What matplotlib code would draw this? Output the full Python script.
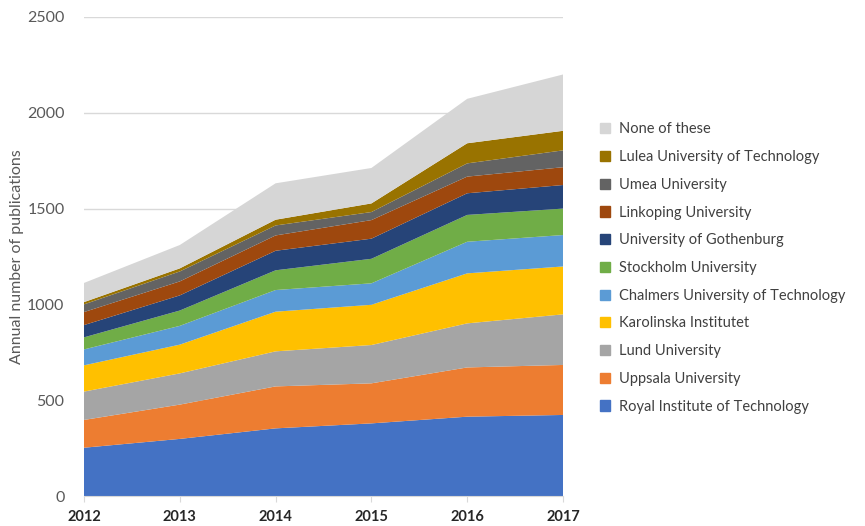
import matplotlib.pyplot as plt
from matplotlib.patches import Patch

plt.rcParams['font.family'] = ['Lato', 'DejaVu Sans']

years = [2012, 2013, 2014, 2015, 2016, 2017]

# publications per year, bottom layer first
royal = [252, 298, 353, 379, 414, 423]
uppsala = [145, 179, 219, 209, 257, 261]
lund = [148, 163, 183, 200, 230, 264]
karolinska = [137, 150, 207, 210, 261, 250]
chalmers = [83, 98, 113, 112, 165, 164]
stockholm = [63, 80, 103, 128, 140, 138]
gothenburg = [64, 79, 102, 105, 113, 123]
linkoping = [68, 73, 80, 97, 87, 93]
umea = [40, 52, 52, 42, 69, 88]
lulea = [12, 16, 30, 45, 105, 102]
none = [100, 122, 190, 185, 232, 294]

labels = ["Royal Institute of Technology", "Uppsala University", "Lund University",
          "Karolinska Institutet", "Chalmers University of Technology",
          "Stockholm University", "University of Gothenburg", "Linkoping University",
          "Umea University", "Lulea University of Technology", "None of these"]
series = [royal, uppsala, lund, karolinska, chalmers, stockholm,
          gothenburg, linkoping, umea, lulea, none]
colors = ["#4472C4", "#ED7D31", "#A5A5A5", "#FFC000", "#5B9BD5", "#70AD47",
          "#264478", "#9E480E", "#636363", "#997300", "#D6D6D6"]

fig = plt.figure(figsize=(8.65, 5.26), dpi=100)
ax = fig.add_axes([84 / 865, 30 / 526, (563 - 84) / 865, (496 - 17) / 526])

ax.stackplot(years, *series, colors=colors, labels=labels, linewidth=0)

ax.set_xlim(2012, 2017)
ax.set_ylim(0, 2500)
ax.set_yticks(range(0, 2501, 500))
ax.set_xticks(years)
ax.grid(axis='y', color='#D9D9D9', linewidth=1)
ax.set_axisbelow(True)
for s in ['top', 'right', 'left']:
    ax.spines[s].set_visible(False)
ax.spines['bottom'].set_color('#D9D9D9')
ax.tick_params(axis='y', length=0, labelsize=11.5, labelcolor='#595959', pad=14)
ax.tick_params(axis='x', length=4, color='#D9D9D9', labelsize=10.5, labelcolor='#262626', pad=6)
for t in ax.get_xticklabels():
    t.set_fontweight('bold')
ax.set_ylabel("Annual number of publications", fontsize=11.5, color='#595959', labelpad=2)

handles = [Patch(color=c) for c in colors][::-1]
fig.legend(handles, labels[::-1], loc='center left', bbox_to_anchor=(587 / 865, 1 - 268 / 526),
           frameon=False, fontsize=10.5, labelcolor='#404040', handlelength=0.7,
           handleheight=0.7, handletextpad=0.6, labelspacing=0.94)

fig.savefig("out.png", dpi=100)
